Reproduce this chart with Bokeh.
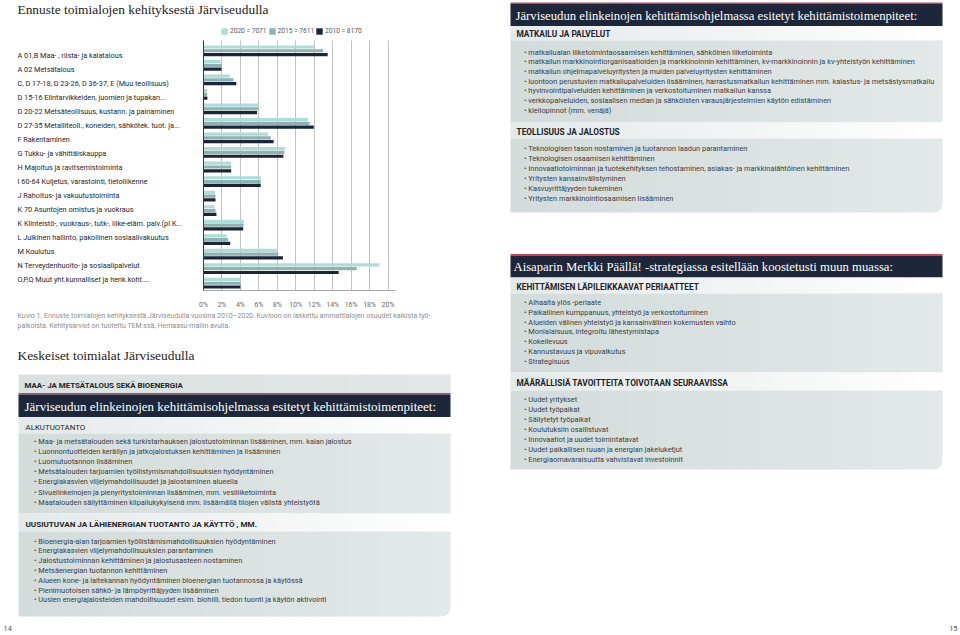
import numpy as np
from bokeh.plotting import figure
from bokeh.models import (ColumnDataSource, Range1d, FixedTicker, PrintfTickFormatter,
                          Legend, LegendItem, LinearAxis, Grid)
from bokeh.transform import dodge
from bokeh.core.properties import value
from bokeh.embed import file_html
from bokeh.resources import INLINE

# ---------------- data ----------------
categories = [
    "A 01,B Maa- , riista- ja kalatalous",
    "A 02 Metsätalous",
    "C, D 17-18, D 23-26, D 36-37, E (Muu teollisuus)",
    "D 15-16 Elintarvikkeiden, juomien ja tupakan...",
    "D 20-22 Metsäteollisuus, kustann. ja painaminen",
    "D 27-35 Metalliteoll., koneiden, sähkötek. tuot. ja...",
    "F Rakentaminen",
    "G Tukku- ja vähittäiskauppa",
    "H Majoitus ja ravitsemistoiminta",
    "I 60-64 Kuljetus, varastointi, tietoliikenne",
    "J Rahoitus- ja vakuutustoiminta",
    "K 70 Asuntojen omistus ja vuokraus",
    "K Kiinteistö-, vuokraus-, tutk-, liike-eläm. palv.(pl.K...",
    "L Julkinen hallinto, pakollinen sosiaalivakuutus",
    "M Koulutus",
    "N Terveydenhuolto- ja sosiaalipalvelut",
    "O,P,Q Muut yht.kunnalliset ja henk.koht....",
]
share_2020 = [12.0, 1.85, 2.85, 0.4, 5.95, 11.3, 7.0, 8.85, 3.0, 6.2, 1.25, 1.2, 4.35, 2.5, 8.0, 19.05, 4.0]
share_2015 = [12.95, 2.0, 3.25, 0.4, 5.9, 11.5, 7.3, 8.75, 3.0, 6.2, 1.3, 1.3, 4.35, 2.65, 8.1, 16.6, 4.0]
share_2010 = [13.45, 1.95, 3.55, 0.42, 5.8, 11.95, 7.6, 8.65, 3.0, 6.2, 1.3, 1.4, 4.3, 2.9, 8.6, 14.65, 4.0]
legend_labels = ["2020 = 7071", "2015 = 7611", "2010 = 8170"]
x_ticks = [0, 2, 4, 6, 8, 10, 12, 14, 16, 18, 20]

chart_title = "Ennuste toimialojen kehityksestä Järviseudulla"
caption_lines = [
    "Kuvio 1. Ennuste toimialojen kehityksestä Järviseudulla vuosina 2010–2020. Kuvioon on laskettu ammattialojen osuudet kaikista työ-",
    "paikoista. Kehitysarviot on tuotettu TEM:ssä, Hemaasu-mallin avulla.",
]
left_heading = "Keskeiset toimialat Järviseudulla"
left_box_title = "MAA- JA METSÄTALOUS SEKÄ BIOENERGIA"
programme_header = "Järviseudun elinkeinojen kehittämisohjelmassa esitetyt kehittämistoimenpiteet:"
alkutuotanto_title = "ALKUTUOTANTO"
alkutuotanto = [
    "Maa- ja metsätalouden sekä turkistarhauksen jalostustoiminnan lisääminen, mm. kalan jalostus",
    "Luonnontuotteiden keräilyn ja jatkojalostuksen kehittäminen ja lisääminen",
    "Luomutuotannon lisääminen",
    "Metsätalouden tarjoamien työllistymismahdollisuuksien hyödyntäminen",
    "Energiakasvien viljelymahdollisuudet ja jalostaminen alueella",
    "Sivuelinkeinojen ja pienyritystoiminnan lisääminen, mm. vesiliiketoiminta",
    "Maatalouden säilyttäminen kilpailukykyisenä mm. lisäämällä tilojen välistä yhteistyötä",
]
energia_title = "UUSIUTUVAN JA LÄHIENERGIAN TUOTANTO JA KÄYTTÖ , MM."
energia = [
    "Bioenergia-alan tarjoamien työllistämismahdollisuuksien hyödyntäminen",
    "Energiakasvien viljelymahdollisuuksien parantaminen",
    "Jalostustoiminnan kehittäminen ja jalostusasteen nostaminen",
    "Metsäenergian tuotannon kehittäminen",
    "Alueen kone- ja laitekannan hyödyntäminen bioenergian tuotannossa ja käytössä",
    "Pienimuotoisen sähkö- ja lämpöyrittäjyyden lisääminen",
    "Uusien energiajalosteiden mahdollisuudet esim. biohiili, tiedon tuonti ja käytön aktivointi",
]
matkailu_title = "MATKAILU JA PALVELUT"
matkailu = [
    "matkailualan liiketoimintaosaamisen kehittäminen, sähköinen liiketoiminta",
    "matkailun markkinointiorganisaatioiden ja markkinoinnin kehittäminen, kv-markkinoinnin ja kv-yhteistyön kehittäminen",
    "matkailun ohjelmapalveluyritysten ja muiden palveluyritysten kehittäminen",
    "luontoon perustuvien matkailupalveluiden lisääminen, harrastusmatkailun kehittäminen mm. kalastus- ja metsästysmatkailu",
    "hyvinvointipalveluiden kehittäminen ja verkostoituminen matkailun kanssa",
    "verkkopalveluiden, sosiaalisen median ja sähköisten varausjärjestelmien käytön edistäminen",
    "kieliopinnot (mm. venäjä)",
]
teollisuus_title = "TEOLLISUUS JA JALOSTUS"
teollisuus = [
    "Teknologisen tason nostaminen ja tuotannon laadun parantaminen",
    "Teknologisen osaamisen kehittäminen",
    "Innovaatiotoiminnan ja tuotekehityksen tehostaminen, asiakas- ja markkinalähtöinen kehittäminen",
    "Yritysten kansainvälistyminen",
    "Kasvuyrittäjyyden tukeminen",
    "Yritysten markkinointiosaamisen lisääminen",
]
strategy_header = "Aisaparin Merkki Päällä! -strategiassa esitellään koostetusti muun muassa:"
periaatteet_title = "KEHITTÄMISEN LÄPILEIKKAAVAT PERIAATTEET"
periaatteet = [
    "Alhaalta ylös -periaate",
    "Paikallinen kumppanuus, yhteistyö ja verkostoituminen",
    "Alueiden välinen yhteistyö ja kansainvälinen kokemusten vaihto",
    "Monialaisuus, integroitu lähestymistapa",
    "Kokeilevuus",
    "Kannustavuus ja vipuvaikutus",
    "Strategisuus",
]
tavoitteet_title = "MÄÄRÄLLISIÄ TAVOITTEITA TOIVOTAAN SEURAAVISSA"
tavoitteet = [
    "Uudet yritykset",
    "Uudet työpaikat",
    "Säilytetyt työpaikat",
    "Koulutuksiin osallistuvat",
    "Innovaatiot ja uudet toimintatavat",
    "Uudet paikallisen ruuan ja energian jakeluketjut",
    "Energiaomavaraisuutta vahvistavat investoinnit",
]
page_numbers = ["14", "15"]

# ---------------- style / layout ----------------
W, H = 960, 635
SANS = "Roboto"
SERIF = "Liberation Serif"
C_LIGHT = "#addcd9"
C_MID = "#8fb1af"
C_DARK = "#1b2537"
NAVY = "#1e2739"
RED = "#c8425c"
BOX0 = "#d3dbdb"
BOX1 = "#e3e8e8"
STRIP0 = "#e4e9e9"
STRIP1 = "#ffffff"
TXT = "#3a3f45"
HEAD = "#1f2328"

# chart frame on the page (pixels)
CH_X0, CH_X1 = 203, 395
CH_Y0, CH_Y1 = 43, 290
X_MAX = 20.8
n_rows = len(categories)
px_per_pct = (CH_X1 - CH_X0) / X_MAX
pitch = (CH_Y1 - CH_Y0) / n_rows

p = figure(width=W, height=H, x_range=Range1d(0, W), y_range=Range1d(H, 0),
           x_axis_type=None, y_axis_type=None, min_border=0,
           output_backend="svg", toolbar_location=None,
           background_fill_color="white", border_fill_color="white")
p.outline_line_color = None
p.extra_x_ranges = {"pct": Range1d(-CH_X0 / px_per_pct, (W - CH_X0) / px_per_pct)}
p.extra_y_ranges = {"rows": Range1d((H - CH_Y0) / pitch - 0.5, (0 - CH_Y0) / pitch - 0.5)}

# ---------------- chart ----------------
src = ColumnDataSource(dict(row=list(range(n_rows)), v2020=share_2020, v2015=share_2015, v2010=share_2010))

grid = Grid(dimension=0, ticker=FixedTicker(ticks=x_ticks[1:]), x_range_name="pct", y_range_name="rows",
            cross_bounds=(-0.7, n_rows - 0.5), grid_line_color="#c2c2c2", grid_line_width=1)
p.add_layout(grid)

bar_h = 0.22
r1 = p.hbar(y=dodge("row", -0.26), left=0, right="v2020", height=bar_h, source=src,
            fill_color=C_LIGHT, line_color=None, x_range_name="pct", y_range_name="rows")
r2 = p.hbar(y=dodge("row", 0.0), left=0, right="v2015", height=bar_h, source=src,
            fill_color=C_MID, line_color=None, x_range_name="pct", y_range_name="rows")
r3 = p.hbar(y=dodge("row", 0.26), left=0, right="v2010", height=bar_h, source=src,
            fill_color=C_DARK, line_color=None, x_range_name="pct", y_range_name="rows")

xaxis = LinearAxis(x_range_name="pct", y_range_name="rows", fixed_location=n_rows - 0.5,
                   bounds=(0, X_MAX), ticker=FixedTicker(ticks=x_ticks),
                   formatter=PrintfTickFormatter(format="%d%%"),
                   major_tick_line_color=None, minor_tick_line_color=None,
                   axis_line_color="#a8a8a8", major_label_text_font=SANS,
                   major_label_text_font_size="7px", major_label_text_color="#6a6a6a",
                   major_label_standoff=4)
p.add_layout(xaxis, "below")
yaxis = LinearAxis(x_range_name="pct", y_range_name="rows", fixed_location=0,
                   bounds=(-0.7, n_rows - 0.5), ticker=FixedTicker(ticks=[]),
                   major_tick_line_color=None, minor_tick_line_color=None,
                   axis_line_color="#3a3a3a", major_label_text_font_size="0px")
p.add_layout(yaxis, "left")

legend = Legend(items=[LegendItem(label=legend_labels[0], renderers=[r1]),
                       LegendItem(label=legend_labels[1], renderers=[r2]),
                       LegendItem(label=legend_labels[2], renderers=[r3])],
                orientation="horizontal", location=(220, H - 35), padding=0, margin=0, spacing=1,
                glyph_width=8, glyph_height=8, label_standoff=2, label_height=8, label_width=10,
                label_text_font=SANS, label_text_font_size="6.6px", label_text_color="#555",
                border_line_color=None, background_fill_alpha=0)
p.add_layout(legend)


# ---------------- page helpers ----------------
def mix(c0, c1, t):
    a = np.array([int(c0[k:k + 2], 16) for k in (1, 3, 5)], float)
    b = np.array([int(c1[k:k + 2], 16) for k in (1, 3, 5)], float)
    c = a + (b - a) * t
    return "#%02x%02x%02x" % tuple(int(round(v)) for v in c)


def band(x0, x1, y0, y1, c0, c1, n=30):
    xs = np.linspace(x0, x1, n + 1)
    lefts = xs[:-1]
    rights = np.minimum(xs[1:] + 0.7, x1)
    cols = [mix(c0, c1, (k + 0.5) / n) for k in range(n)]
    p.quad(left=lefts, right=rights, top=[y0] * n, bottom=[y1] * n, fill_color=cols, line_color=None)


def round_corner(x1, y1, r):
    t = np.linspace(0, np.pi / 2, 14)
    ax = (x1 - r) + r * np.cos(t)
    ay = (y1 - r) + r * np.sin(t)
    xs = [x1 + 2, x1] + list(ax) + [x1 - r, x1 + 2]
    ys = [y1 - r, y1 - r] + list(ay) + [y1 + 2, y1 + 2]
    p.patch(x=xs, y=ys, fill_color="white", line_color=None)


def texts(xs, ys, strs, size="7.4px", color=TXT, font=SANS, style="normal", align="left"):
    p.text(x=xs, y=ys, text=strs, text_font=value(font), text_font_size=size, text_color=color,
           text_baseline="middle", text_align=align, text_font_style=style)


def bullets(x, y0, step, items):
    texts([x] * len(items), [y0 + step * k for k in range(len(items))], ["•  " + s for s in items])


def header_bar(x0, x1, y0, y1, text, tx, size):
    p.quad(left=[x0], right=[x1], top=[y0 - 1.6], bottom=[y0], fill_color=RED, line_color=None)
    p.quad(left=[x0], right=[x1], top=[y0], bottom=[y1], fill_color=NAVY, line_color=None)
    texts([tx], [(y0 + y1) / 2 + 0.5], [text], size=size, color="white", font=SERIF)


# chart title + category labels
texts([17], [8.5], [chart_title], size="13.4px", color="#222", font=SERIF)
texts([17] * n_rows, [55 + 14 * i for i in range(n_rows)], categories, size="7.3px", color="#23272c")

# ---------------- left page ----------------
texts([17, 17], [315.5, 325.5], caption_lines, size="7px", color="#8d8d8d")
texts([17], [355], [left_heading], size="13.4px", color="#222", font=SERIF)

LX0, LX1 = 18, 450
band(LX0, LX1, 374, 393, "#dbe1e0", "#e2e6e6")
texts([24], [384.5], [left_box_title], size="7.9px", color=HEAD, style="bold")
header_bar(LX0, LX1, 394, 416.5, programme_header, 24, "13px")
band(LX0, LX1, 416.5, 433, STRIP0, STRIP1)
texts([25], [426.5], [alkutuotanto_title], size="7.9px", color=HEAD)
band(LX0, LX1, 433, 513, BOX0, BOX1)
bullets(33.5, 441, 10.1, alkutuotanto)
band(LX0, LX1, 513, 531, STRIP0, STRIP1)
texts([25], [523.5], [energia_title], size="8.1px", color=HEAD, style="bold")
band(LX0, LX1, 531, 616, BOX0, BOX1)
round_corner(LX1, 616, 9)
bullets(33.5, 540.5, 9.8, energia)
texts([3], [628], [page_numbers[0]], size="7.4px", color="#555")

# ---------------- right page ----------------
RX0, RX1 = 510, 942
header_bar(RX0, RX1, 3.5, 25.5, programme_header, 515, "12.7px")
band(RX0, RX1, 25.5, 40, STRIP0, STRIP1)
texts([516], [33.5], [matkailu_title], size="8.3px", color=HEAD, style="bold")
band(RX0, RX1, 40, 122, BOX0, BOX1)
bullets(523.5, 51.7, 9.65, matkailu)
band(RX0, RX1, 122, 138, STRIP0, STRIP1)
texts([516], [131], [teollisuus_title], size="8.3px", color=HEAD, style="bold")
band(RX0, RX1, 138, 212, BOX0, BOX1)
round_corner(RX1, 212, 9)
bullets(523.5, 148.3, 9.9, teollisuus)

header_bar(RX0, RX1, 255, 277, strategy_header, 513, "12.7px")
band(RX0, RX1, 277, 293, STRIP0, STRIP1)
texts([516], [286], [periaatteet_title], size="8.3px", color=HEAD, style="bold")
band(RX0, RX1, 293, 372, BOX0, BOX1)
bullets(523.5, 301.7, 9.9, periaatteet)
band(RX0, RX1, 372, 390, STRIP0, STRIP1)
texts([516], [382.7], [tavoitteet_title], size="8.3px", color=HEAD, style="bold")
band(RX0, RX1, 390, 469, BOX0, BOX1)
round_corner(RX1, 469, 9)
bullets(523.5, 399.3, 10.0, tavoitteet)
texts([957], [628], [page_numbers[1]], size="7.4px", color="#555", align="right")

open("out.html", "w").write(file_html(p, INLINE))
